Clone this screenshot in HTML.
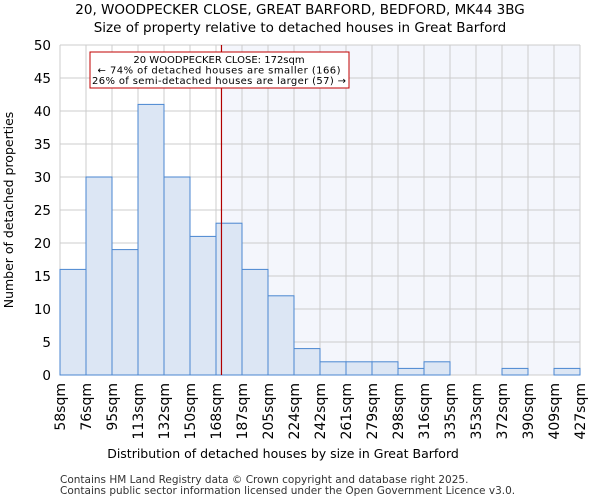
<!DOCTYPE html>
<html><head><meta charset="utf-8"><style>
body{margin:0;background:#fff;font-family:"DejaVu Sans","Liberation Sans",sans-serif}
</style></head><body>
<svg id="c" width="600" height="500" xmlns="http://www.w3.org/2000/svg" font-family="DejaVu Sans, Liberation Sans, sans-serif">
<text x="300" y="14" text-anchor="middle" font-size="13.5">20, WOODPECKER CLOSE, GREAT BARFORD, BEDFORD, MK44 3BG</text>
<text x="300" y="32" text-anchor="middle" font-size="13.5">Size of property relative to detached houses in Great Barford</text>
<g id="plot"></g>
<text x="283" y="458" text-anchor="middle" font-size="12.5">Distribution of detached houses by size in Great Barford</text>
<text transform="translate(13,210) rotate(-90)" text-anchor="middle" font-size="12.5">Number of detached properties</text>
<text x="60" y="483" font-size="10.5" fill="#333">Contains HM Land Registry data © Crown copyright and database right 2025.</text>
<text x="60" y="494" font-size="10.5" fill="#333">Contains public sector information licensed under the Open Government Licence v3.0.</text>
</svg>
<script>
const binLabels=["58sqm","76sqm","95sqm","113sqm","132sqm","150sqm","168sqm","187sqm","205sqm","224sqm","242sqm","261sqm","279sqm","298sqm","316sqm","335sqm","353sqm","372sqm","390sqm","409sqm","427sqm"];
const counts=[16,30,19,41,30,21,23,16,12,4,2,2,2,1,2,0,0,1,0,1];
const yTicks=[0,5,10,15,20,25,30,35,40,45,50];
const propertySize=172;
const binEdges=[58,76,95,113,132,150,168,187,205,224,242,261,279,298,316,335,353,372,390,409,427];
const NS="http://www.w3.org/2000/svg";
const g=document.getElementById('plot');
const X0=60,X1=580,Y0=375,Y1=45;
const bw=(X1-X0)/counts.length;
const xi=i=>X0+i*bw;
const y=v=>Y0-(v/50)*(Y0-Y1);
function sizeX(s){let i=0;while(i<binEdges.length-2&&s>binEdges[i+1])i++;return xi(i)+bw*(s-binEdges[i])/(binEdges[i+1]-binEdges[i]);}
function mk(t,a){const e=document.createElementNS(NS,t);for(const k in a)e.setAttribute(k,a[k]);g.appendChild(e);return e;}
const px=sizeX(propertySize);
const sh=mk('rect',{x:px,y:Y1,width:X1-px,height:Y0-Y1,fill:'#f4f6fc'});


yTicks.forEach(v=>{
 const l=mk('line',{x1:X0,x2:X1,y1:y(v),y2:y(v),stroke:'#ccc','stroke-width':1});
 
 
 const t=mk('text',{x:X0-9,y:y(v)+5,'text-anchor':'end','font-size':13.5});
 t.textContent=v;
 
 
});
binLabels.forEach((s,i)=>{
 const l=mk('line',{x1:xi(i),x2:xi(i),y1:Y1,y2:Y0,stroke:'#ccc','stroke-width':1});
 
 
 const t=mk('text',{transform:`translate(${xi(i)+5},${Y0+8}) rotate(-90)`,'text-anchor':'end','font-size':14});
 t.textContent=s;
 
 
});
counts.forEach((c,i)=>{
 if(c<=0)return;
 const r=mk('rect',{x:xi(i),y:y(c),width:bw,height:Y0-y(c),fill:'#dce6f4',stroke:'#4a86d0','stroke-width':1});
 
 
});
const pl=mk('line',{x1:px,x2:px,y1:Y1,y2:Y0,stroke:'#b00000','stroke-width':1.2});


const box=mk('rect',{x:90,y:52,width:259,height:36,fill:'#fff',stroke:'#c00000','stroke-width':1});


["20 WOODPECKER CLOSE: 172sqm","← 74% of detached houses are smaller (166)","26% of semi-detached houses are larger (57) →"].forEach((s,i)=>{
 const t=mk('text',{x:219,y:63+i*10.5,'text-anchor':'middle','font-size':10,textLength:i==0?'':null});
 if(i>0)t.setAttribute('textLength',i==1?243:254);
 else t.removeAttribute('textLength');
 t.textContent=s;
 
 
});
</script>
</body></html>
